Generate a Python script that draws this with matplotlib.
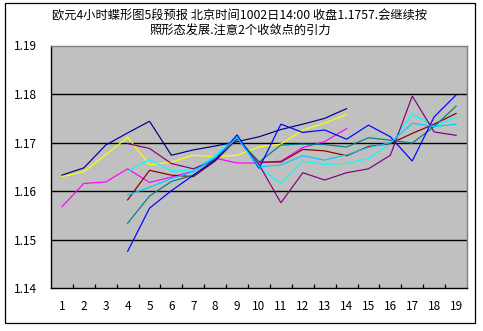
import matplotlib
matplotlib.use('Agg')
import matplotlib.pyplot as plt
from matplotlib.patches import Rectangle

plt.rcParams['font.family'] = ['Noto Sans CJK SC', 'DejaVu Sans']

# 时段编号 1..19
periods = list(range(1, 20))

# 前三组预测从第1段开始, 到第14段结束
navy = [1.1633, 1.1648, 1.1695, 1.1720, 1.1744, 1.1674, 1.1685, 1.1693, 1.1702,
        1.1712, 1.1727, 1.1738, 1.1750, 1.1770]
yellow = [1.1630, 1.1640, 1.1675, 1.1711, 1.1654, 1.1660, 1.1674, 1.1671, 1.1674,
          1.1691, 1.1697, 1.1726, 1.1740, 1.1758]
magenta = [1.1568, 1.1616, 1.1619, 1.1646, 1.1618, 1.1629, 1.1641, 1.1668, 1.1658,
           1.1658, 1.1662, 1.1690, 1.1702, 1.1729]

# 其余各组从第4段开始, 到第19段结束
purple = [1.1698, 1.1688, 1.1657, 1.1646, 1.1665, 1.1708, 1.1655, 1.1576, 1.1638,
          1.1623, 1.1638, 1.1646, 1.1674, 1.1796, 1.1722, 1.1715]
darkred = [1.1582, 1.1643, 1.1633, 1.1630, 1.1662, 1.1708, 1.1660, 1.1660, 1.1686,
           1.1683, 1.1673, 1.1692, 1.1698, 1.1719, 1.1738, 1.1760]
teal = [1.1534, 1.1590, 1.1620, 1.1633, 1.1666, 1.1710, 1.1660, 1.1695, 1.1697,
        1.1696, 1.1691, 1.1710, 1.1705, 1.1699, 1.1733, 1.1775]
blue = [1.1476, 1.1565, 1.1601, 1.1633, 1.1664, 1.1716, 1.1647, 1.1738, 1.1721,
        1.1726, 1.1707, 1.1736, 1.1712, 1.1662, 1.1753, 1.1798]
cyan = [1.1641, 1.1665, 1.1642, 1.1642, 1.1674, 1.1712, 1.1649, 1.1616, 1.1662,
        1.1655, 1.1657, 1.1667, 1.1698, 1.1759, 1.1733, 1.1753]
skyblue = [1.1592, 1.1608, 1.1626, 1.1640, 1.1670, 1.1710, 1.1650, 1.1654, 1.1673,
           1.1664, 1.1675, 1.1690, 1.1700, 1.1740, 1.1733, 1.1738]

yticks = [1.14, 1.15, 1.16, 1.17, 1.18, 1.19]

series = [
    (navy, 1, '#000080'),
    (magenta, 1, '#FF00FF'),
    (yellow, 1, '#FFFF00'),
    (cyan, 4, '#00FFFF'),
    (purple, 4, '#800080'),
    (darkred, 4, '#800000'),
    (teal, 4, '#008080'),
    (blue, 4, '#0000FF'),
    (skyblue, 4, '#00CCFF'),
]

W, H = 483, 331
fig = plt.figure(figsize=(W / 100, H / 100), dpi=100)
fig.patch.set_facecolor('white')

# 图表外框
fig.patches.append(Rectangle((5 / W, 1 - 323 / H), 470 / W, 320 / H,
                             transform=fig.transFigure, fill=False,
                             edgecolor='black', lw=0.9))

ax = fig.add_axes([51 / W, 1 - 288.3 / H, 416 / W, (288.3 - 45.5) / H])
ax.set_facecolor('#C0C0C0')

for vals, start, color in series:
    xs = periods[start - 1:start - 1 + len(vals)]
    ax.plot(xs, vals, color=color, lw=0.85, solid_joinstyle='miter')

ax.set_xlim(0.5, 19.5)
ax.set_ylim(1.14, 1.19)
ax.set_yticks(yticks)
ax.set_yticklabels([f'{v:.2f}' for v in yticks])
ax.set_xticks(periods)
ax.set_xticklabels([str(p) for p in periods])
ax.set_xticks([p + 0.5 for p in periods[:-1]], minor=True)

for y in yticks[1:-1]:
    ax.axhline(y, color='black', lw=1.0, zorder=0.5)

ax.tick_params(axis='x', which='major', length=0, pad=8.5, labelsize=8.5)
ax.tick_params(axis='x', which='minor', direction='in', length=3, width=0.9)
ax.tick_params(axis='y', length=0, pad=10, labelsize=8.5)

for side in ('top', 'right'):
    ax.spines[side].set_color('#808080')
    ax.spines[side].set_linewidth(1.0)
for side in ('left', 'bottom'):
    ax.spines[side].set_color('black')
    ax.spines[side].set_linewidth(1.0)

fig.text(240 / W, 1 - 16 / H,
         '欧元4小时蝶形图5段预报 北京时间1002日14:00 收盘1.1757.会继续按',
         ha='center', va='center', fontsize=8.8)
fig.text(240 / W, 1 - 31 / H, '照形态发展.注意2个收敛点的引力',
         ha='center', va='center', fontsize=8.8)

fig.savefig('out.png', dpi=100)
